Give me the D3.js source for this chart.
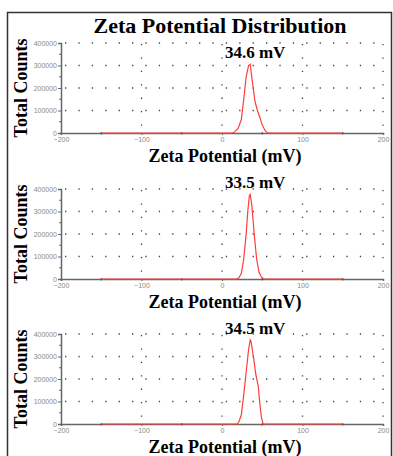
<!DOCTYPE html>
<html>
<head>
<meta charset="utf-8">
<script src="https://cdn.jsdelivr.net/npm/d3@7/dist/d3.min.js"></script>
<style>
  body { margin: 0; background: #fff; }
  svg { display: block; }
</style>
</head>
<body>
<script>
// datos
var titulo = "Zeta Potential Distribution";
var etiquetaX = "Zeta Potential (mV)";
var etiquetaY = "Total Counts";
var ticksX = [-200, -100, 0, 100, 200];
var ticksY = [0, 100000, 200000, 300000, 400000];
var etiquetasPico = ["34.6 mV", "33.5 mV", "34.5 mV"];

var zeta1   = [-150, 12, 15, 20, 24, 27, 30, 33, 35, 38, 41, 44, 47, 50, 54, 57, 150];
var cuentas1 = [0, 0, 3000, 20000, 60000, 150000, 250000, 300000, 305000, 220000, 140000, 100000, 70000, 35000, 8000, 0, 0];

var zeta2   = [-150, 18, 21, 24, 27, 30, 32, 34, 35, 37, 40, 43, 46, 49, 52, 150];
var cuentas2 = [0, 0, 5000, 25000, 90000, 200000, 300000, 370000, 376000, 330000, 200000, 90000, 30000, 8000, 0, 0];

var zeta3   = [-150, 19, 21, 24, 27, 30, 33, 35, 36, 39, 42, 45, 47, 49, 51, 150];
var cuentas3 = [0, 0, 10000, 40000, 130000, 230000, 330000, 374000, 368000, 300000, 220000, 170000, 90000, 30000, 0, 0];

var series = [[zeta1, cuentas1], [zeta2, cuentas2], [zeta3, cuentas3]];

// layout
var ancho = 393, alto = 456;
var ceros = [133, 279, 424];
var altoPanel = 90;

var svg = d3.select("body").append("svg")
    .attr("width", ancho)
    .attr("height", alto);

// marco exterior
svg.append("rect")
    .attr("x", 7.5).attr("y", 12.5)
    .attr("width", 384).attr("height", 460)
    .style("fill", "none")
    .style("stroke", "#333")
    .style("stroke-width", 1.5);

svg.append("text")
    .attr("x", 220).attr("y", 33)
    .attr("text-anchor", "middle")
    .style("font-family", "'Liberation Serif', serif")
    .style("font-weight", "bold")
    .style("font-size", "22px")
    .text(titulo);

var x = d3.scaleLinear().domain([-200, 200]).range([61, 383]);

for (var p = 0; p < 3; p++)
{
    var cero = ceros[p];
    var y = d3.scaleLinear().domain([0, 400000]).range([cero, cero - altoPanel]);
    var g = svg.append("g");

    // rejilla punteada horizontal
    ticksY.slice(1).forEach(function (v) {
        g.append("line")
            .attr("x1", x(-200) + 4).attr("x2", x(200))
            .attr("y1", y(v)).attr("y2", y(v))
            .style("stroke", "#444")
            .style("stroke-width", 1.3)
            .style("stroke-dasharray", "1.3,12.1");
    });
    // rejilla punteada vertical
    ticksX.slice(1).forEach(function (v) {
        g.append("line")
            .attr("x1", x(v)).attr("x2", x(v))
            .attr("y1", y(400000) + 1).attr("y2", y(0) - 2)
            .style("stroke", "#444")
            .style("stroke-width", 1.3)
            .style("stroke-dasharray", "1.3,12.1");
    });

    // eje Y
    var ejeY = d3.axisLeft(y).tickValues(ticksY).tickSize(3).tickPadding(1)
        .tickFormat(d3.format("d"));
    var gy = g.append("g").attr("transform", "translate(" + x(-200) + ",0)").call(ejeY);
    gy.select(".domain").style("stroke", "#666").style("stroke-width", 1.5);
    gy.selectAll(".tick line").style("stroke", "#666");
    gy.selectAll("text")
        .style("font-family", "'Liberation Sans', sans-serif")
        .style("font-size", "7px")
        .style("fill", "#8a8a80");
    // ticks menores Y
    d3.range(50000, 400000, 100000).forEach(function (v) {
        g.append("line")
            .attr("x1", x(-200) - 2).attr("x2", x(-200))
            .attr("y1", y(v)).attr("y2", y(v))
            .style("stroke", "#666");
    });

    // eje X
    var ejeX = d3.axisBottom(x).tickValues(ticksX).tickSize(2).tickPadding(2)
        .tickFormat(d3.format("d"));
    var gx = g.append("g").attr("transform", "translate(0," + cero + ")").call(ejeX);
    gx.select(".domain").style("stroke", "#666").style("stroke-width", 1.5);
    gx.selectAll(".tick line").style("stroke", "#666");
    gx.selectAll("text")
        .style("font-family", "'Liberation Sans', sans-serif")
        .style("font-size", "7px")
        .style("fill", "#8a8a80");
    [-150, -50, 50, 150].forEach(function (v) {
        g.append("line")
            .attr("x1", x(v)).attr("x2", x(v))
            .attr("y1", cero - 1).attr("y2", cero + 1.5)
            .style("stroke", "#444");
    });

    // curva
    var zs = series[p][0], cs = series[p][1];
    var puntos = zs.map(function (z, i) { return [z, cs[i]]; });
    var linea = d3.line()
        .x(function (d) { return x(d[0]); })
        .y(function (d) { return y(d[1]); });
    g.append("path")
        .datum(puntos)
        .attr("d", linea)
        .style("fill", "none")
        .style("stroke", "#ff3b3b")
        .style("stroke-width", 1.2);

    // etiqueta del pico
    var pico = puntos.reduce(function (a, b) { return b[1] > a[1] ? b : a; });
    g.append("text")
        .attr("x", x(pico[0]) + 5)
        .attr("y", y(pico[1]) - 6)
        .attr("text-anchor", "middle")
        .style("font-family", "'Liberation Serif', serif")
        .style("font-weight", "bold")
        .style("font-size", "17px")
        .text(etiquetasPico[p]);

    // titulos de ejes
    g.append("text")
        .attr("x", 225).attr("y", cero + 28.7)
        .attr("text-anchor", "middle")
        .style("font-family", "'Liberation Serif', serif")
        .style("font-weight", "bold")
        .style("font-size", "18px")
        .text(etiquetaX);

    g.append("text")
        .attr("transform", "translate(27," + (cero - 45) + ") rotate(-90)")
        .attr("text-anchor", "middle")
        .style("font-family", "'Liberation Serif', serif")
        .style("font-weight", "bold")
        .style("font-size", "18px")
        .text(etiquetaY);
}
</script>
</body>
</html>
